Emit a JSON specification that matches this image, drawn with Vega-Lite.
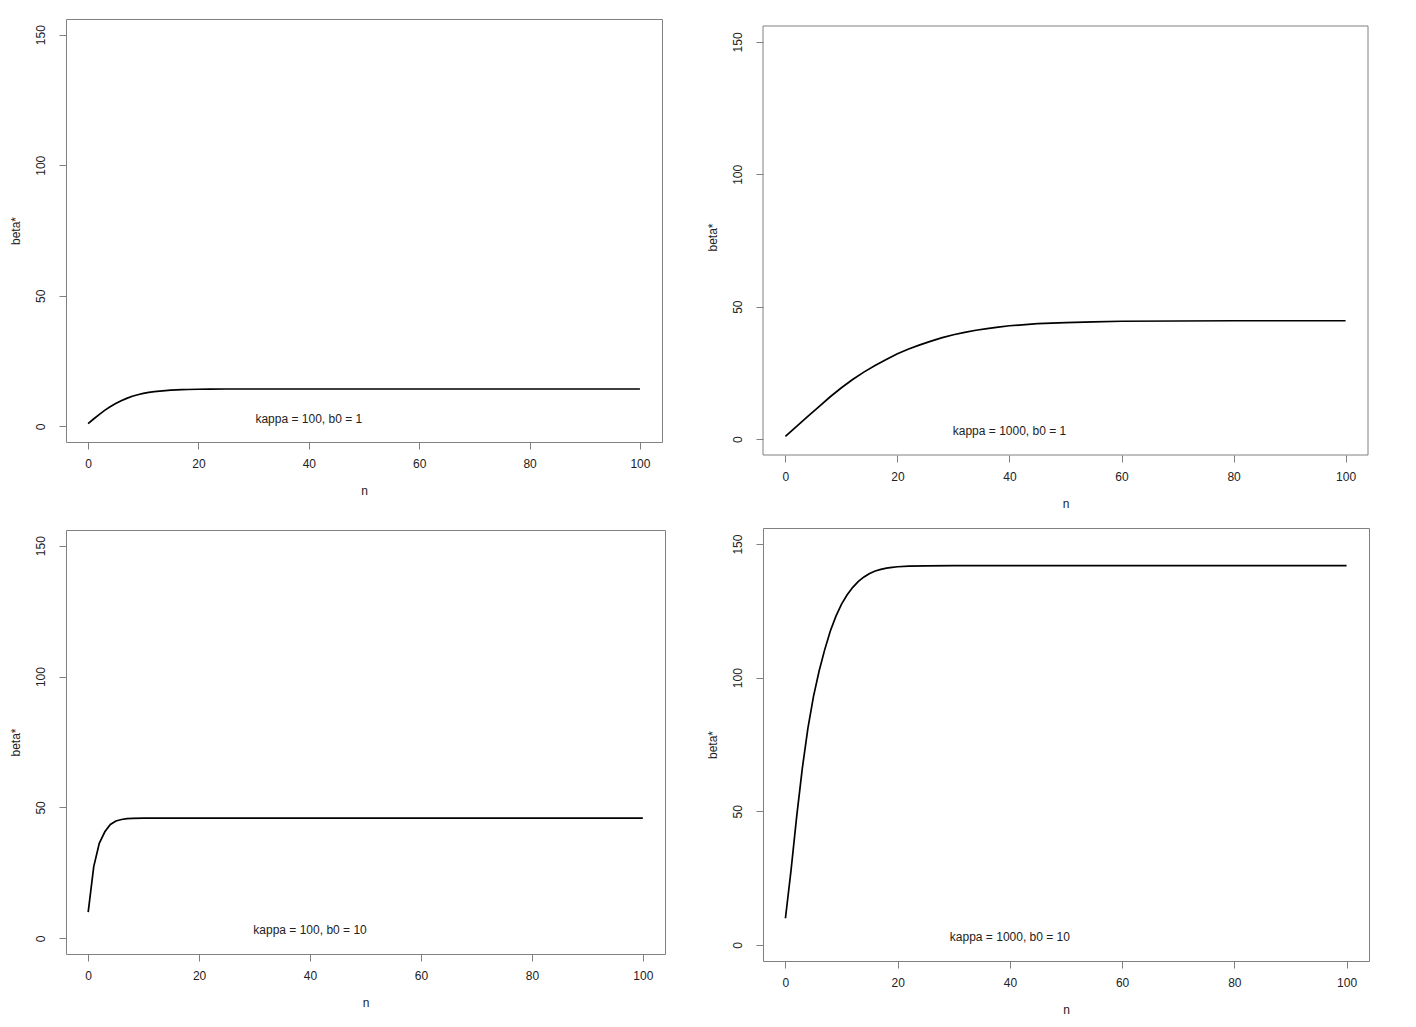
{
  "$schema": "https://vega.github.io/schema/vega-lite/v6.json",
  "padding": {"left": 8, "top": 18, "right": 0, "bottom": 0},
  "background": "white",
  "datasets": {
    "curves": [
      {"panel": 1, "n": 0, "beta": 1}, {"panel": 1, "n": 1, "beta": 2.8}, {"panel": 1, "n": 2, "beta": 4.5}, {"panel": 1, "n": 3, "beta": 6.1},
      {"panel": 1, "n": 4, "beta": 7.5}, {"panel": 1, "n": 5, "beta": 8.7}, {"panel": 1, "n": 6, "beta": 9.8}, {"panel": 1, "n": 7, "beta": 10.7},
      {"panel": 1, "n": 8, "beta": 11.5}, {"panel": 1, "n": 9, "beta": 12.1}, {"panel": 1, "n": 10, "beta": 12.6}, {"panel": 1, "n": 11, "beta": 13.0},
      {"panel": 1, "n": 12, "beta": 13.3}, {"panel": 1, "n": 13, "beta": 13.5}, {"panel": 1, "n": 14, "beta": 13.7}, {"panel": 1, "n": 15, "beta": 13.85},
      {"panel": 1, "n": 16, "beta": 13.95}, {"panel": 1, "n": 17, "beta": 14.05}, {"panel": 1, "n": 18, "beta": 14.1}, {"panel": 1, "n": 20, "beta": 14.2},
      {"panel": 1, "n": 22, "beta": 14.25}, {"panel": 1, "n": 25, "beta": 14.3}, {"panel": 1, "n": 30, "beta": 14.3}, {"panel": 1, "n": 40, "beta": 14.3},
      {"panel": 1, "n": 50, "beta": 14.3}, {"panel": 1, "n": 60, "beta": 14.3}, {"panel": 1, "n": 70, "beta": 14.3}, {"panel": 1, "n": 80, "beta": 14.3},
      {"panel": 1, "n": 90, "beta": 14.3}, {"panel": 1, "n": 100, "beta": 14.3},

      {"panel": 2, "n": 0, "beta": 1}, {"panel": 2, "n": 2, "beta": 4.8}, {"panel": 2, "n": 4, "beta": 8.6}, {"panel": 2, "n": 6, "beta": 12.3},
      {"panel": 2, "n": 8, "beta": 16}, {"panel": 2, "n": 10, "beta": 19.4}, {"panel": 2, "n": 12, "beta": 22.5}, {"panel": 2, "n": 14, "beta": 25.3},
      {"panel": 2, "n": 16, "beta": 27.8}, {"panel": 2, "n": 18, "beta": 30.1}, {"panel": 2, "n": 20, "beta": 32.2}, {"panel": 2, "n": 22, "beta": 34},
      {"panel": 2, "n": 24, "beta": 35.6}, {"panel": 2, "n": 26, "beta": 37}, {"panel": 2, "n": 28, "beta": 38.3}, {"panel": 2, "n": 30, "beta": 39.4},
      {"panel": 2, "n": 32, "beta": 40.3}, {"panel": 2, "n": 34, "beta": 41.1}, {"panel": 2, "n": 36, "beta": 41.7}, {"panel": 2, "n": 38, "beta": 42.3},
      {"panel": 2, "n": 40, "beta": 42.8}, {"panel": 2, "n": 45, "beta": 43.6}, {"panel": 2, "n": 50, "beta": 44}, {"panel": 2, "n": 55, "beta": 44.3},
      {"panel": 2, "n": 60, "beta": 44.5}, {"panel": 2, "n": 70, "beta": 44.6}, {"panel": 2, "n": 80, "beta": 44.7}, {"panel": 2, "n": 90, "beta": 44.7},
      {"panel": 2, "n": 100, "beta": 44.7},

      {"panel": 3, "n": 0, "beta": 10}, {"panel": 3, "n": 1, "beta": 27.4}, {"panel": 3, "n": 2, "beta": 36.3}, {"panel": 3, "n": 3, "beta": 40.7},
      {"panel": 3, "n": 4, "beta": 43.5}, {"panel": 3, "n": 5, "beta": 44.8}, {"panel": 3, "n": 6, "beta": 45.4}, {"panel": 3, "n": 7, "beta": 45.7},
      {"panel": 3, "n": 8, "beta": 45.85}, {"panel": 3, "n": 10, "beta": 45.9}, {"panel": 3, "n": 20, "beta": 45.9}, {"panel": 3, "n": 40, "beta": 45.9},
      {"panel": 3, "n": 60, "beta": 45.9}, {"panel": 3, "n": 80, "beta": 45.9}, {"panel": 3, "n": 100, "beta": 45.9},

      {"panel": 4, "n": 0, "beta": 10}, {"panel": 4, "n": 1, "beta": 28}, {"panel": 4, "n": 2, "beta": 48}, {"panel": 4, "n": 3, "beta": 66},
      {"panel": 4, "n": 4, "beta": 81}, {"panel": 4, "n": 5, "beta": 93}, {"panel": 4, "n": 6, "beta": 102.5}, {"panel": 4, "n": 7, "beta": 110.5},
      {"panel": 4, "n": 8, "beta": 117.5}, {"panel": 4, "n": 9, "beta": 123}, {"panel": 4, "n": 10, "beta": 127.5}, {"panel": 4, "n": 11, "beta": 131},
      {"panel": 4, "n": 12, "beta": 133.8}, {"panel": 4, "n": 13, "beta": 136}, {"panel": 4, "n": 14, "beta": 137.7}, {"panel": 4, "n": 15, "beta": 139},
      {"panel": 4, "n": 16, "beta": 139.9}, {"panel": 4, "n": 17, "beta": 140.5}, {"panel": 4, "n": 18, "beta": 141}, {"panel": 4, "n": 19, "beta": 141.3},
      {"panel": 4, "n": 20, "beta": 141.5}, {"panel": 4, "n": 22, "beta": 141.7}, {"panel": 4, "n": 25, "beta": 141.8}, {"panel": 4, "n": 30, "beta": 141.9},
      {"panel": 4, "n": 40, "beta": 141.9}, {"panel": 4, "n": 60, "beta": 141.9}, {"panel": 4, "n": 80, "beta": 141.9}, {"panel": 4, "n": 100, "beta": 141.9}
    ],
    "labels": [
      {"panel": 1, "n": 40, "beta": 3, "label": "kappa = 100, b0 = 1"},
      {"panel": 2, "n": 40, "beta": 3, "label": "kappa = 1000, b0 = 1"},
      {"panel": 3, "n": 40, "beta": 3, "label": "kappa = 100, b0 = 10"},
      {"panel": 4, "n": 40, "beta": 3, "label": "kappa = 1000, b0 = 10"}
    ]
  },
  "hconcat": [
    {
      "spacing": 32,
      "vconcat": [
        {
          "width": 596, "height": 423,
          "layer": [
            {"data": {"name": "curves"}, "transform": [{"filter": "datum.panel == 1"}],
             "mark": {"type": "line", "color": "black", "strokeWidth": 1.7},
             "encoding": {
               "x": {"field": "n", "type": "quantitative", "scale": {"domain": [-4, 104], "nice": false, "zero": false}, "axis": {"title": "n", "values": [0, 20, 40, 60, 80, 100]}},
               "y": {"field": "beta", "type": "quantitative", "scale": {"domain": [-6, 156], "nice": false, "zero": false}, "axis": {"title": "beta*", "values": [0, 50, 100, 150]}}
             }},
            {"data": {"name": "labels"}, "transform": [{"filter": "datum.panel == 1"}],
             "mark": {"type": "text", "align": "center", "baseline": "middle"},
             "encoding": {"x": {"field": "n", "type": "quantitative"}, "y": {"field": "beta", "type": "quantitative"}, "text": {"field": "label"}}}
          ]
        },
        {
          "width": 599, "height": 424,
          "layer": [
            {"data": {"name": "curves"}, "transform": [{"filter": "datum.panel == 3"}],
             "mark": {"type": "line", "color": "black", "strokeWidth": 1.7},
             "encoding": {
               "x": {"field": "n", "type": "quantitative", "scale": {"domain": [-4, 104], "nice": false, "zero": false}, "axis": {"title": "n", "values": [0, 20, 40, 60, 80, 100]}},
               "y": {"field": "beta", "type": "quantitative", "scale": {"domain": [-6, 156], "nice": false, "zero": false}, "axis": {"title": "beta*", "values": [0, 50, 100, 150]}}
             }},
            {"data": {"name": "labels"}, "transform": [{"filter": "datum.panel == 3"}],
             "mark": {"type": "text", "align": "center", "baseline": "middle"},
             "encoding": {"x": {"field": "n", "type": "quantitative"}, "y": {"field": "beta", "type": "quantitative"}, "text": {"field": "label"}}}
          ]
        }
      ]
    },
    {
      "spacing": 18,
      "vconcat": [
        {
          "width": 605, "height": 436,
          "view": {"stroke": null},
          "layer": [
            {"data": {"values": [{}]},
             "mark": {"type": "rect", "fill": null, "stroke": "#808080", "strokeWidth": 1},
             "encoding": {
               "x": {"datum": -4, "type": "quantitative", "scale": {"domain": [-4, 104], "nice": false, "zero": false}, "axis": {"title": "n", "values": [0, 20, 40, 60, 80, 100]}},
               "x2": {"datum": 104},
               "y": {"datum": -6, "type": "quantitative", "scale": {"domain": [-6, 158.64], "nice": false, "zero": false}, "axis": {"title": "beta*", "values": [0, 50, 100, 150]}},
               "y2": {"datum": 156}
             }},
            {"data": {"name": "curves"}, "transform": [{"filter": "datum.panel == 2"}],
             "mark": {"type": "line", "color": "black", "strokeWidth": 1.7},
             "encoding": {
               "x": {"field": "n", "type": "quantitative"},
               "y": {"field": "beta", "type": "quantitative"}
             }},
            {"data": {"name": "labels"}, "transform": [{"filter": "datum.panel == 2"}],
             "mark": {"type": "text", "align": "center", "baseline": "middle"},
             "encoding": {"x": {"field": "n", "type": "quantitative"}, "y": {"field": "beta", "type": "quantitative"}, "text": {"field": "label"}}}
          ]
        },
        {
          "width": 606, "height": 433,
          "layer": [
            {"data": {"name": "curves"}, "transform": [{"filter": "datum.panel == 4"}],
             "mark": {"type": "line", "color": "black", "strokeWidth": 1.7},
             "encoding": {
               "x": {"field": "n", "type": "quantitative", "scale": {"domain": [-4, 104], "nice": false, "zero": false}, "axis": {"title": "n", "values": [0, 20, 40, 60, 80, 100]}},
               "y": {"field": "beta", "type": "quantitative", "scale": {"domain": [-6, 156], "nice": false, "zero": false}, "axis": {"title": "beta*", "values": [0, 50, 100, 150]}}
             }},
            {"data": {"name": "labels"}, "transform": [{"filter": "datum.panel == 4"}],
             "mark": {"type": "text", "align": "center", "baseline": "middle"},
             "encoding": {"x": {"field": "n", "type": "quantitative"}, "y": {"field": "beta", "type": "quantitative"}, "text": {"field": "label"}}}
          ]
        }
      ]
    }
  ],
  "spacing": 39,
  "config": {
    "view": {"stroke": "#808080", "strokeWidth": 1},
    "axis": {"domain": false, "grid": false, "tickColor": "#808080", "tickSize": 7, "tickWidth": 1, "labelFont": "Liberation Sans", "labelFontSize": 12, "labelColor": "#222222", "labelFlush": false, "labelOverlap": false, "titleFont": "Liberation Sans", "titleFontSize": 12, "titleFontWeight": "normal", "titleColor": "#222222"},
    "axisX": {"labelPadding": 9, "titlePadding": 16},
    "axisY": {"labelAngle": -90, "labelAlign": "center", "labelBaseline": "bottom", "labelPadding": 12, "titlePadding": 14, "minExtent": 30, "maxExtent": 30},
    "text": {"font": "Liberation Sans", "fontSize": 12, "color": "#222222"},
    "title": {"font": "Liberation Sans"}
  }
}
